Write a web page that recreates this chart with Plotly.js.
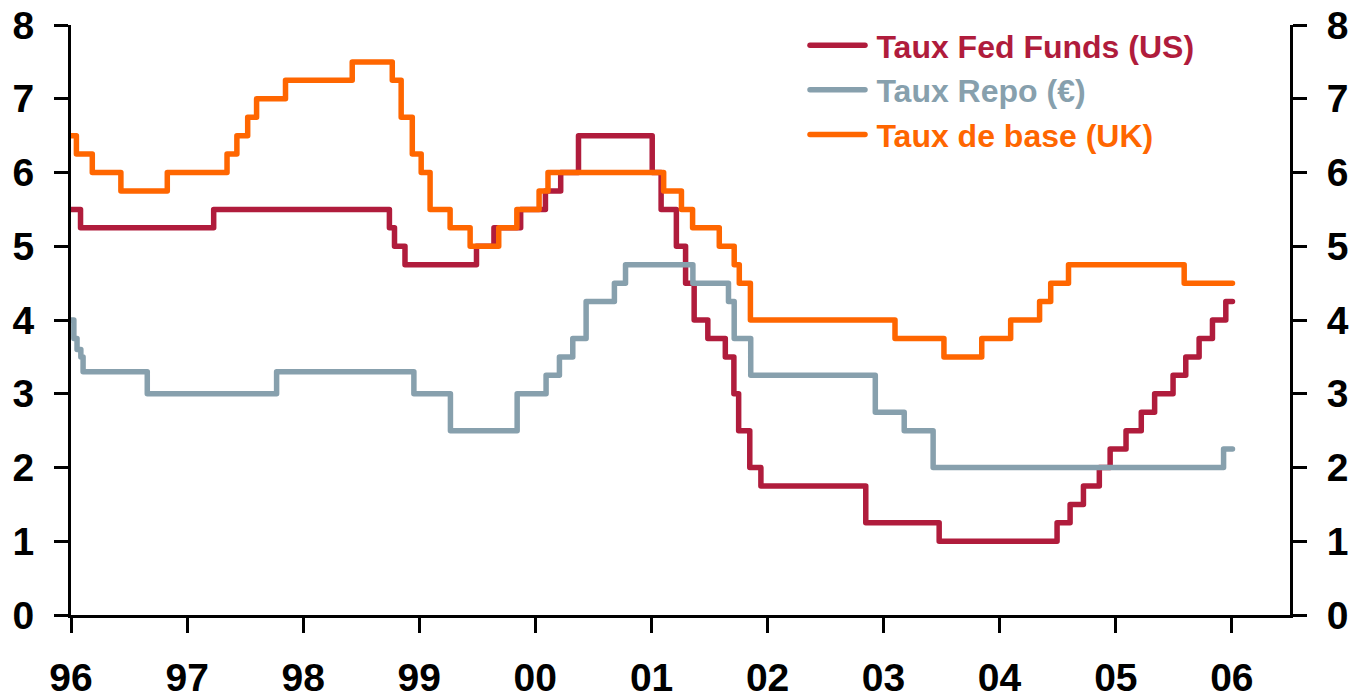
<!DOCTYPE html>
<html>
<head>
<meta charset="utf-8">
<script src="https://cdn.plot.ly/plotly-3.0.1.min.js"></script>
<style>
html, body { margin: 0; padding: 0; background: #fff; }
#chart { width: 1353px; height: 699px; }
.js-line { stroke-linejoin: round; stroke-linecap: round; }
.legendlines path { stroke-linecap: round; }
</style>
</head>
<body>
<div id="chart"></div>
<script>
// Taux Fed Funds (US) — dates of changes and levels
const fedDates = ['1996-01-01','1996-01-31','1997-03-25','1998-09-29','1998-10-15','1998-11-17','1999-06-30','1999-08-24','1999-11-16','2000-02-02','2000-03-21','2000-05-16','2001-01-03','2001-01-31','2001-03-20','2001-04-18','2001-05-15','2001-06-27','2001-08-21','2001-09-17','2001-10-02','2001-11-06','2001-12-11','2002-11-06','2003-06-25','2004-06-30','2004-08-10','2004-09-21','2004-11-10','2004-12-14','2005-02-02','2005-03-22','2005-05-03','2005-06-30','2005-08-09','2005-09-20','2005-11-01','2005-12-13','2006-01-03'];
const fedValues = [5.5,5.25,5.5,5.25,5.0,4.75,5.0,5.25,5.5,5.75,6.0,6.5,6.0,5.5,5.0,4.5,4.0,3.75,3.5,3.0,2.5,2.0,1.75,1.25,1.0,1.25,1.5,1.75,2.0,2.25,2.5,2.75,3.0,3.25,3.5,3.75,4.0,4.25,4.25];

// Taux Repo (€)
const repoDates = ['1996-01-01','1996-01-10','1996-01-20','1996-02-01','1996-02-08','1996-08-28','1997-10-09','1998-12-15','1999-04-09','1999-11-05','2000-02-04','2000-03-17','2000-04-28','2000-06-09','2000-09-06','2000-10-11','2001-05-11','2001-08-31','2001-09-18','2001-11-09','2002-12-06','2003-03-07','2003-06-06','2005-12-06','2006-01-03'];
const repoValues = [4.0,3.75,3.6,3.5,3.3,3.0,3.3,3.0,2.5,3.0,3.25,3.5,3.75,4.25,4.5,4.75,4.5,4.25,3.75,3.25,2.75,2.5,2.0,2.25,2.25];

// Taux de base (UK)
const ukDates = ['1996-01-01','1996-01-18','1996-03-08','1996-06-06','1996-10-30','1997-05-06','1997-06-06','1997-07-10','1997-08-07','1997-11-06','1998-06-04','1998-10-08','1998-11-05','1998-12-10','1999-01-07','1999-02-04','1999-04-08','1999-06-10','1999-09-08','1999-11-04','2000-01-13','2000-02-10','2001-02-08','2001-04-05','2001-05-10','2001-08-02','2001-09-18','2001-10-04','2001-11-08','2003-02-06','2003-07-10','2003-11-06','2004-02-05','2004-05-06','2004-06-10','2004-08-05','2005-08-04','2006-01-03'];
const ukValues = [6.5,6.25,6.0,5.75,6.0,6.25,6.5,6.75,7.0,7.25,7.5,7.25,6.75,6.25,6.0,5.5,5.25,5.0,5.25,5.5,5.75,6.0,5.75,5.5,5.25,5.0,4.75,4.5,4.0,3.75,3.5,3.75,4.0,4.25,4.5,4.75,4.5,4.5];

const seriesNames = ['Taux Fed Funds (US)', 'Taux Repo (€)', 'Taux de base (UK)'];
const colors = ['#B01C3C', '#87A0AD', '#FF6600'];

const FONT = 'Liberation Sans, Arial, Helvetica, sans-serif';

function mk(x, y, i) {
  return {
    type: 'scatter', mode: 'lines', x: x, y: y,
    name: '\u2009<span style="color:' + colors[i] + '">' + seriesNames[i] + '</span>',
    line: { color: colors[i], width: 5.5, shape: 'hv' },
    hoverinfo: 'x+y'
  };
}

const data = [
  mk(fedDates, fedValues, 0),
  mk(repoDates, repoValues, 1),
  mk(ukDates, ukValues, 2)
];

const yCommon = {
  range: [0, 8], dtick: 1, tick0: 0,
  showgrid: false, zeroline: false,
  showline: true, linecolor: '#000', linewidth: 3,
  ticks: 'outside', ticklen: 14, tickwidth: 3, tickcolor: '#000',
  tickfont: { family: FONT, size: 39, color: '#000', weight: 'bold' },
  ticklabelstandoff: 12,
  fixedrange: true
};

const layout = {
  width: 1353, height: 699,
  margin: { l: 71, r: 63, t: 25, b: 84 },
  paper_bgcolor: '#fff', plot_bgcolor: '#fff',
  showlegend: true,
  legend: {
    xref: 'paper', yref: 'paper',
    x: (805 - 71) / 1219, y: 1.012, xanchor: 'left', yanchor: 'top',
    bgcolor: 'rgba(0,0,0,0)', borderwidth: 0,
    itemwidth: 55,
    font: { family: FONT, size: 32, weight: 'bold', color: '#000' },
    tracegroupgap: 0
  },
  xaxis: {
    type: 'date',
    range: ['1996-01-01', '2006-07-03'],
    tick0: '1996-01-01', dtick: 'M12', tickformat: '%y',
    showgrid: false, zeroline: false,
    showline: true, linecolor: '#000', linewidth: 3,
    ticks: 'outside', ticklen: 15, tickwidth: 3, tickcolor: '#000',
    tickfont: { family: FONT, size: 39, color: '#000', weight: 'bold' },
    ticklabelstandoff: 11,
    fixedrange: true
  },
  yaxis: Object.assign({}, yCommon, { side: 'left' }),
  yaxis2: Object.assign({}, yCommon, { side: 'right', overlaying: 'y', anchor: 'x' })
};

// helper trace so the right axis is drawn on the same scale
data.push({ type: 'scatter', mode: 'lines', x: [fedDates[0]], y: [fedValues[0]], yaxis: 'y2', showlegend: false, hoverinfo: 'skip', line: { width: 0 } });

Plotly.newPlot('chart', data, layout, { displayModeBar: false, staticPlot: true });
</script>
</body>
</html>
